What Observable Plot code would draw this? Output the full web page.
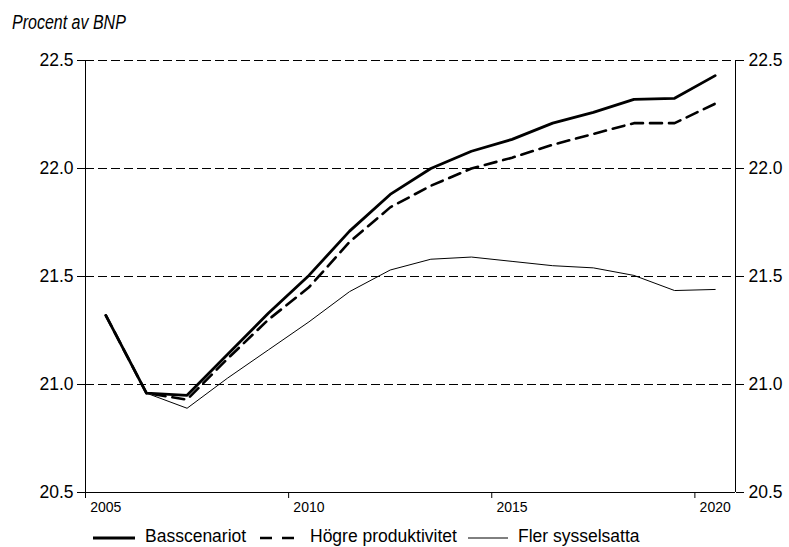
<!DOCTYPE html>
<html><head><meta charset="utf-8">
<script src="https://cdn.jsdelivr.net/npm/d3@7"></script>
<script src="https://cdn.jsdelivr.net/npm/@observablehq/plot@0.6"></script>
<style>
body{margin:0;background:#fff;width:789px;height:547px;overflow:hidden;position:relative;font-family:"Liberation Sans",Arial,sans-serif;color:#000;}
#title{position:absolute;left:12px;top:11px;font-family:"Liberation Sans Narrow","Arial Narrow","Liberation Sans",sans-serif;font-style:italic;font-size:20px;white-space:nowrap;transform:scaleX(0.8);transform-origin:0 0;}
#chart{position:absolute;left:0;top:40px;}
#legend{position:absolute;top:527px;left:0;height:19px;width:789px;font-size:17.5px;}
#legend .item{position:absolute;top:0;white-space:nowrap;line-height:18px;}
#legend svg{position:absolute;top:0;}
</style>
</head><body>
<div id="title">Procent av BNP</div>
<div id="chart"></div>
<div id="legend"></div>
<script>
const years = [2005,2006,2007,2008,2009,2010,2011,2012,2013,2014,2015,2016,2017,2018,2019,2020];
const basscenariot = [21.32,20.96,20.95,21.14,21.33,21.505,21.71,21.88,22.0,22.08,22.135,22.21,22.26,22.32,22.325,22.43];
const hogreProduktivitet = [21.32,20.96,20.93,21.12,21.30,21.45,21.66,21.82,21.92,22.0,22.05,22.11,22.16,22.21,22.21,22.30];
const flerSysselsatta = [21.32,20.96,20.89,21.03,21.16,21.29,21.43,21.53,21.58,21.59,21.57,21.55,21.54,21.505,21.435,21.44];
const seriesNames = ["Basscenariot","Högre produktivitet","Fler sysselsatta"];
const yTicks = [20.5,21.0,21.5,22.0,22.5];
const gridValues = [21.0,21.5,22.0,22.5];
const xLabelYears = [2005,2010,2015,2020];
const xTickBounds = [2004.5,2009.5,2014.5,2019.5];
const xDomain = [2004.5,2020.5];

const mk = arr => years.map((y,i)=>({year:y, value:arr[i]}));
const bass = mk(basscenariot), hogre = mk(hogreProduktivitet), fler = mk(flerSysselsatta);

const chart = Plot.plot({
  width: 789, height: 480,
  marginLeft: 85, marginRight: 54, marginTop: 20, marginBottom: 28,
  style: {fontFamily: '"Liberation Sans", Arial, sans-serif', background: "white", color: "black"},
  x: {type: "linear", domain: xDomain},
  y: {domain: [20.5, 22.5]},
  marks: [
    Plot.ruleY(gridValues, {stroke: "black", strokeWidth: 1, strokeDasharray: "9,4"}),
    Plot.ruleY([20.5], {stroke: "black", strokeWidth: 1}),
    Plot.ruleX(xDomain, {stroke: "black", strokeWidth: 1}),
    Plot.line(fler, {x: "year", y: "value", stroke: "black", strokeWidth: 1}),
    Plot.line(hogre, {x: "year", y: "value", stroke: "black", strokeWidth: 2.6, strokeDasharray: "12,7"}),
    Plot.line(bass, {x: "year", y: "value", stroke: "black", strokeWidth: 2.8}),
    Plot.axisY({anchor: "left", ticks: yTicks, tickFormat: d3.format(".1f"), tickSize: 8, tickPadding: 4, fontSize: 17.5, label: null}),
    Plot.axisY({anchor: "right", ticks: yTicks, tickFormat: d3.format(".1f"), tickSize: 8, tickPadding: 5, fontSize: 17.5, label: null}),
    Plot.axisX({ticks: xTickBounds, tickFormat: () => "", tickSize: 6, label: null}),
    Plot.axisX({ticks: xLabelYears, tickFormat: d => String(d), tickSize: 0, tickPadding: 10, fontSize: 14, label: null})
  ]
});
document.getElementById("chart").appendChild(chart);

// legend
const lg = document.getElementById("legend");
const legendItems = [
  {name: seriesNames[0], x1: 93, x2: 135, text: 145, w: 2.8, dash: null},
  {name: seriesNames[1], x1: 260, x2: 294, text: 310, w: 2.6, dash: "12,10"},
  {name: seriesNames[2], x1: 468, x2: 508, text: 518, w: 1, dash: null}
];
for (const it of legendItems) {
  const svg = d3.create("svg").attr("width", it.x2 - it.x1 + 2).attr("height", 19)
    .style("left", (it.x1 - 1) + "px");
  svg.append("line").attr("x1", 1).attr("x2", it.x2 - it.x1 + 1).attr("y1", 11).attr("y2", 11)
    .attr("stroke", "black").attr("stroke-width", it.w).attr("stroke-dasharray", it.dash);
  lg.appendChild(svg.node());
  const t = document.createElement("div");
  t.className = "item"; t.style.left = it.text + "px"; t.textContent = it.name;
  lg.appendChild(t);
}
</script>
</body></html>
